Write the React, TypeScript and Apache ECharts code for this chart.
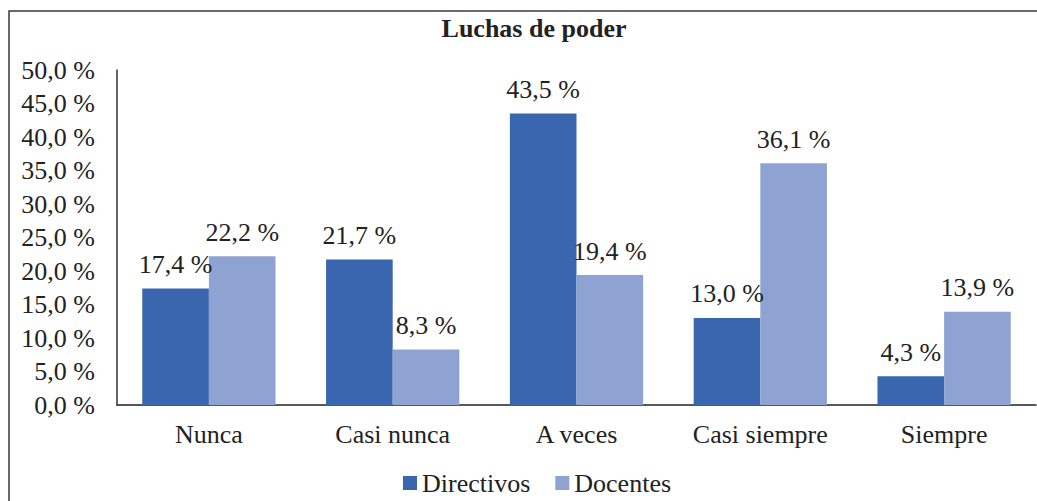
import React, { useEffect, useRef } from "react";
import * as echarts from "echarts";

const categories = ["Nunca", "Casi nunca", "A veces", "Casi siempre", "Siempre"];
const directivos = [17.4, 21.7, 43.5, 13.0, 4.3];
const docentes = [22.2, 8.3, 19.4, 36.1, 13.9];
const seriesNames = ["Directivos", "Docentes"];
const titleText = "Luchas de poder";

const FONT = "Times New Roman, Liberation Serif, serif";
const fmt = (v: number) => v.toFixed(1).replace(".", ",") + " %";

export default function App() {
  const ref = useRef<HTMLDivElement>(null);
  useEffect(() => {
    if (!ref.current) return;
    const chart = echarts.init(ref.current, undefined, { renderer: "svg" });
    const labelCfg = {
      show: true,
      position: "top" as const,
      distance: 11,
      color: "#222",
      fontFamily: FONT,
      fontSize: 26,
      formatter: (p: any) => fmt(p.value),
    };
    chart.setOption({
      animation: false,
      backgroundColor: "#fff",
      textStyle: { fontFamily: FONT },
      graphic: [
        {
          type: "rect",
          shape: { x: 9, y: 11, width: 1200, height: 700 },
          style: { fill: "none", stroke: "#3a3a3a", lineWidth: 1.5 },
          silent: true,
        },
        {
          type: "text",
          x: 534,
          y: 28,
          style: {
            text: titleText,
            fontFamily: FONT,
            fontSize: 26,
            fontWeight: "bold",
            fill: "#222",
            align: "center",
            verticalAlign: "middle",
          },
        },
      ],
      legend: {
        data: seriesNames,
        left: 403,
        top: 470,
        padding: 0,
        itemWidth: 14,
        itemHeight: 14,
        itemGap: 25,
        icon: "rect",
        textStyle: { fontFamily: FONT, fontSize: 26, color: "#222" },
      },
      grid: { left: 117, right: 1, top: 70, bottom: 96, containLabel: false },
      xAxis: {
        type: "category",
        data: categories,
        axisLine: { lineStyle: { color: "#222", width: 1.5 } },
        axisTick: { show: false },
        axisLabel: { fontFamily: FONT, fontSize: 26, color: "#222", margin: 16 },
      },
      yAxis: {
        type: "value",
        min: 0,
        max: 50,
        interval: 5,
        axisLine: { show: true, lineStyle: { color: "#333", width: 1.5 } },
        axisTick: { show: false },
        splitLine: { show: false },
        axisLabel: {
          fontFamily: FONT,
          fontSize: 26,
          color: "#222",
          margin: 22,
          formatter: (v: number) => fmt(v),
        },
      },
      series: [
        {
          name: seriesNames[0],
          type: "bar",
          data: directivos,
          barGap: "0%",
          barCategoryGap: "27.5%",
          itemStyle: { color: "#3A66AF" },
          label: labelCfg,
        },
        {
          name: seriesNames[1],
          type: "bar",
          data: docentes,
          barGap: "0%",
          barCategoryGap: "27.5%",
          itemStyle: { color: "#8FA3D2" },
          label: labelCfg,
        },
      ],
    });
    return () => chart.dispose();
  }, []);
  return (
    <div
      ref={ref}
      style={{ position: "absolute", left: 0, top: 0, width: 1037, height: 501 }}
    />
  );
}
